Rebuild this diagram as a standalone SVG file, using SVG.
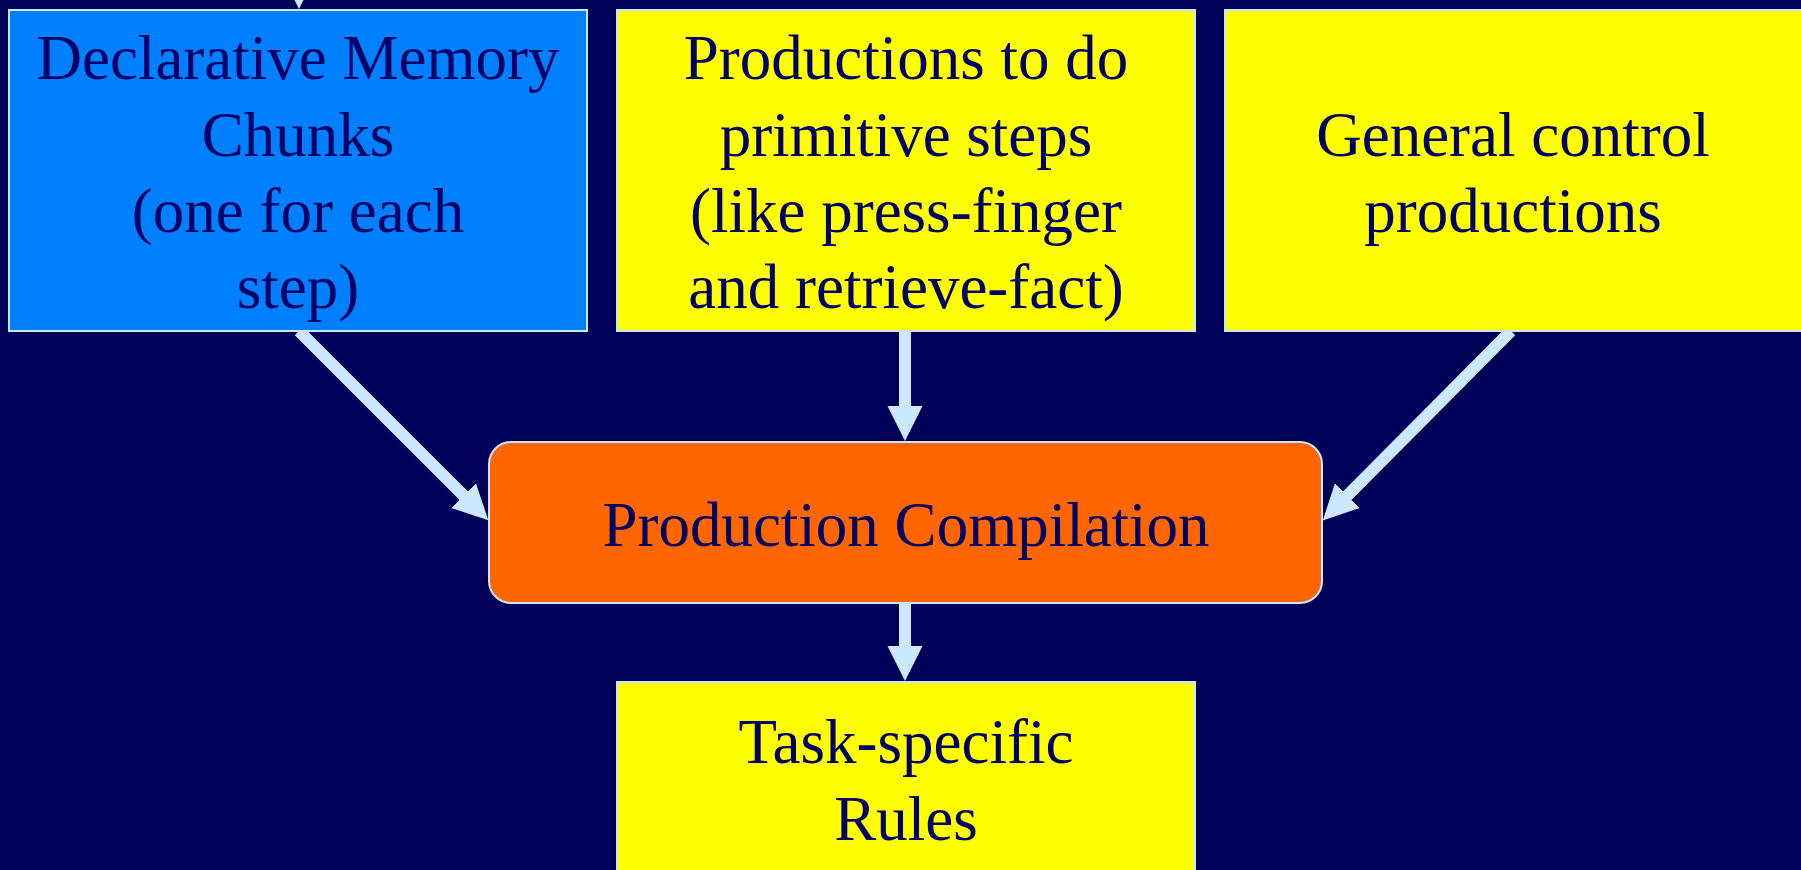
<svg xmlns="http://www.w3.org/2000/svg" width="1801" height="870" viewBox="0 0 1801 870">
<style>
.box{stroke:#c8e6ff;stroke-width:2}
.t{font-family:"Liberation Serif","Times New Roman",serif;font-size:63px;fill:#000066;text-anchor:middle}
.conn{stroke:#cce8ff;stroke-width:12;fill:none}
</style>
<defs>
<marker id="ah" markerUnits="userSpaceOnUse" markerWidth="36" markerHeight="36" refX="1" refY="17.5" orient="auto" viewBox="0 0 36 35">
<path d="M0,0 L35,17.5 L0,35 z" fill="#cce8ff"/>
</marker>
</defs>
<rect width="1801" height="870" fill="#000058"/>
<g id="connectors">
<line class="conn" x1="299" y1="-80" x2="299" y2="-25" marker-end="url(#ah)"/>
<line class="conn" x1="299" y1="331" x2="464.3" y2="496.3" marker-end="url(#ah)"/>
<line class="conn" x1="905" y1="331" x2="905" y2="407" marker-end="url(#ah)"/>
<line class="conn" x1="1511" y1="331" x2="1346.7" y2="496.3" marker-end="url(#ah)"/>
<line class="conn" x1="905" y1="603" x2="905" y2="647" marker-end="url(#ah)"/>
</g>
<g id="declarative">
<rect class="box" x="9" y="10" width="578" height="321" fill="#0080ff"/>
<text class="t" x="298" y="79">Declarative Memory</text>
<text class="t" x="298" y="156">Chunks</text>
<text class="t" x="298" y="232">(one for each</text>
<text class="t" x="298" y="308">step)</text>
</g>
<g id="primitive">
<rect class="box" x="617" y="10" width="578" height="321" fill="#ffff00"/>
<text class="t" x="906" y="79">Productions to do</text>
<text class="t" x="906" y="156">primitive steps</text>
<text class="t" x="906" y="232">(like press-finger</text>
<text class="t" x="906" y="308">and retrieve-fact)</text>
</g>
<g id="general">
<rect class="box" x="1225" y="10" width="580" height="321" fill="#ffff00"/>
<text class="t" x="1513" y="156">General control</text>
<text class="t" x="1513" y="232">productions</text>
</g>
<g id="compilation">
<rect class="box" x="489" y="442" width="833" height="161" rx="22" ry="22" fill="#ff6600"/>
<text class="t" x="906" y="546">Production Compilation</text>
</g>
<g id="taskspecific">
<rect class="box" x="617" y="682" width="578" height="200" fill="#ffff00"/>
<text class="t" x="906" y="763">Task-specific</text>
<text class="t" x="906" y="840">Rules</text>
</g>
</svg>
